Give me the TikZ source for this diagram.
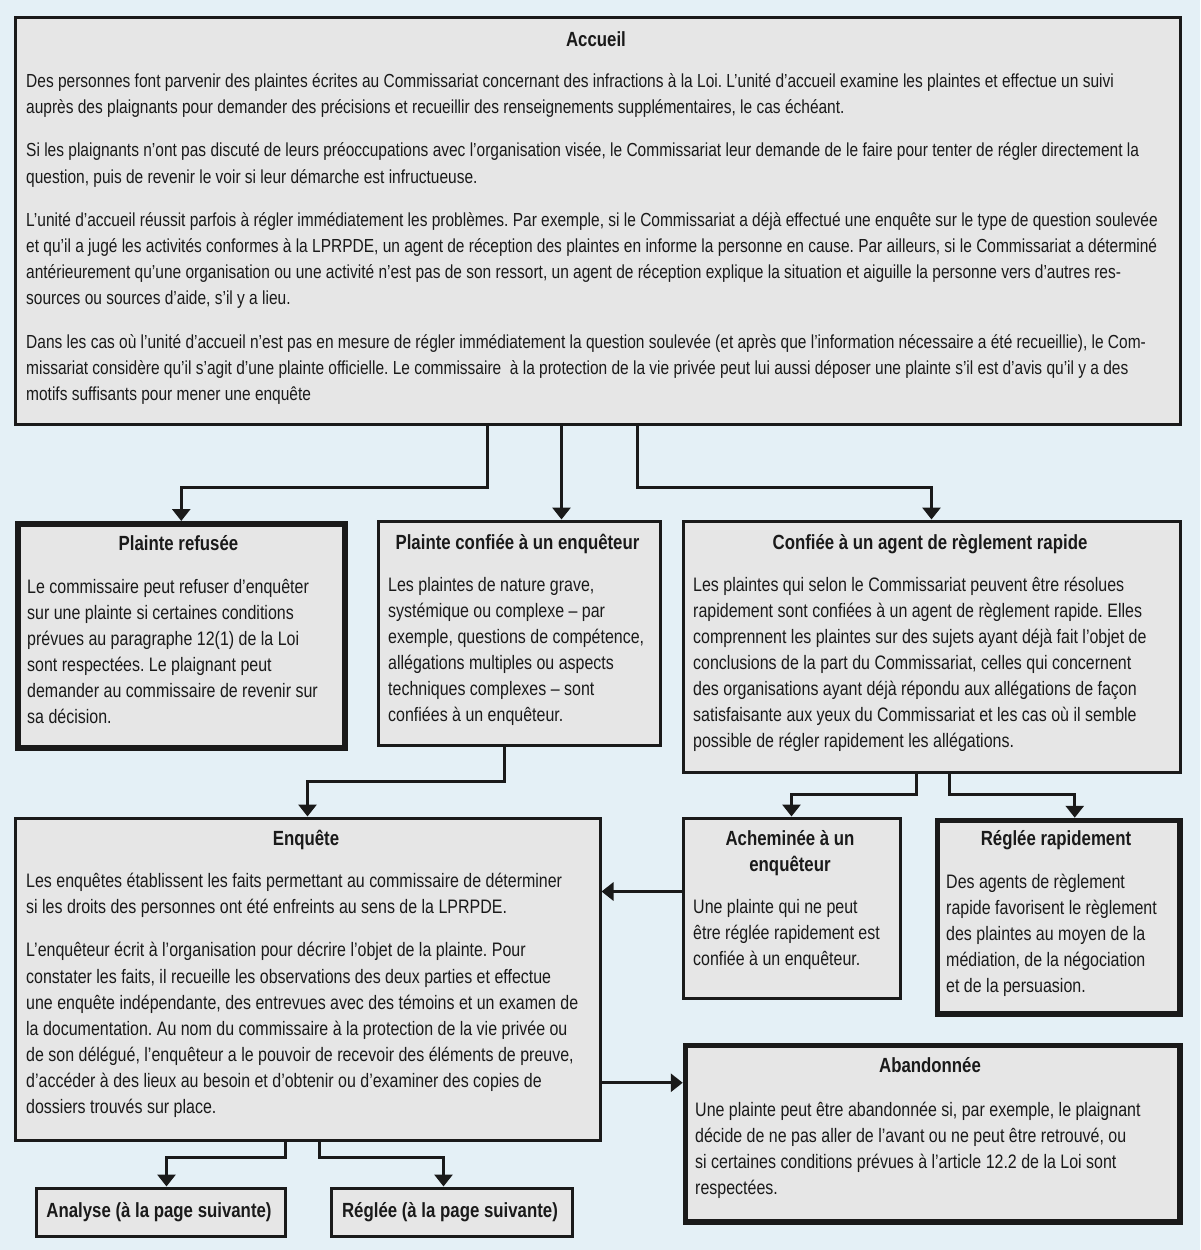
\documentclass[tikz,border=0pt]{standalone}
\usepackage{fontspec}
\setmainfont{Liberation Sans}[FakeStretch=0.82]
\usetikzlibrary{arrows.meta}
\definecolor{bg}{HTML}{E4F0F6}
\definecolor{boxfill}{HTML}{E6E6E6}
\definecolor{ink}{HTML}{1A1A1A}
\frenchspacing
\begin{document}
\frenchspacing
\begin{tikzpicture}[x=1pt,y=-1pt,
  box/.style={draw=ink, fill=boxfill, line width=3pt, inner sep=0pt, anchor=north west},
  thickbox/.style={box, line width=5.5pt},
  ttl/.style={font=\fontsize{20.5}{26}\selectfont\bfseries, text=ink, inner sep=0pt, anchor=base},
  ttltwo/.style={font=\fontsize{20.5}{26}\selectfont\bfseries, text=ink, inner sep=0pt, align=center, anchor=north},
  body/.style={font=\fontsize{19.5}{26.1}\selectfont\frenchspacing, text=ink, inner sep=0pt, align=left, anchor=north west},
  widebody/.style={body, font=\fontsize{18.9}{26.1}\selectfont\frenchspacing},
  conn/.style={draw=ink, line width=3pt, -{Triangle[width=18pt,length=12pt]}},
]
\fill[bg] (0,0) rectangle (1200,1250);
\useasboundingbox (0,0) rectangle (1200,1250);

% ---------- boxes ----------
\node[box, minimum width=1165pt, minimum height=407pt] (acc) at (13.5,15.5) {};
\node[thickbox, minimum width=327pt, minimum height=224pt] (pr) at (15,521) {};
\node[box, minimum width=282pt, minimum height=224pt] (pc) at (376.5,519.5) {};
\node[box, minimum width=497pt, minimum height=251pt] (ca) at (681.5,519.5) {};
\node[box, minimum width=585pt, minimum height=322pt] (enq) at (13.5,816.5) {};
\node[box, minimum width=217pt, minimum height=180pt] (ach) at (681.5,816.5) {};
\node[thickbox, minimum width=242.5pt, minimum height=193.5pt] (rr) at (934.75,817.75) {};
\node[thickbox, minimum width=494.5pt, minimum height=176.5pt] (ab) at (682.75,1042.75) {};
\node[box, minimum width=249pt, minimum height=48pt] (an) at (34.5,1186.5) {};
\node[box, minimum width=241pt, minimum height=48pt] (rg) at (329.5,1186.5) {};

% ---------- titles ----------
\node[ttl] (acc-t) at (596,46) {Accueil};
\node[ttl] (pr-t) at (178.5,550) {Plainte refusée};
\node[ttl] (pc-t) at (517.5,549) {Plainte confiée à un enquêteur};
\node[ttl] (ca-t) at (930,549) {Confiée à un agent de règlement rapide};
\node[ttl] (enq-t) at (306,845) {Enquête};
\node[ttltwo] (ach-t) at (790,829) {\rule{0pt}{16pt}Acheminée à un\\enquêteur};
\node[ttl] (rr-t) at (1056,845) {Réglée rapidement};
\node[ttl] (ab-t) at (930,1072) {Abandonnée};
\node[ttl] (an-t) at (159,1217) {Analyse (à la page suivante)};
\node[ttl] (rg-t) at (450,1217) {Réglée (à la page suivante)};

% ---------- bodies ----------
\node[widebody] (acc-b) at (26,71) {\rule{0pt}{16pt}Des personnes font parvenir des plaintes écrites au Commissariat concernant des infractions à la Loi. L’unité d’accueil examine les plaintes et effectue un suivi\\
auprès des plaignants pour demander des précisions et recueillir des renseignements supplémentaires, le cas échéant.\\[17.5pt]
Si les plaignants n’ont pas discuté de leurs préoccupations avec l’organisation visée, le Commissariat leur demande de le faire pour tenter de régler directement la\\
question, puis de revenir le voir si leur démarche est infructueuse.\\[17.5pt]
L’unité d’accueil réussit parfois à régler immédiatement les problèmes. Par exemple, si le Commissariat a déjà effectué une enquête sur le type de question soulevée\\
et qu’il a jugé les activités conformes à la LPRPDE, un agent de réception des plaintes en informe la personne en cause. Par ailleurs, si le Commissariat a déterminé\\
antérieurement qu’une organisation ou une activité n’est pas de son ressort, un agent de réception explique la situation et aiguille la personne vers d’autres res-\\
sources ou sources d’aide, s’il y a lieu.\\[17.5pt]
Dans les cas où l’unité d’accueil n’est pas en mesure de régler immédiatement la question soulevée (et après que l’information nécessaire a été recueillie), le Com-\\
missariat considère qu’il s’agit d’une plainte officielle. Le commissaire~ à la protection de la vie privée peut lui aussi déposer une plainte s’il est d’avis qu’il y a des\\
motifs suffisants pour mener une enquête};

\node[body] (pr-b) at (27,577) {\rule{0pt}{16pt}Le commissaire peut refuser d’enquêter\\
sur une plainte si certaines conditions\\
prévues au paragraphe 12(1) de la Loi\\
sont respectées. Le plaignant peut\\
demander au commissaire de revenir sur\\
sa décision.};

\node[body] (pc-b) at (388,575) {\rule{0pt}{16pt}Les plaintes de nature grave,\\
systémique ou complexe – par\\
exemple, questions de compétence,\\
allégations multiples ou aspects\\
techniques complexes – sont\\
confiées à un enquêteur.};

\node[body] (ca-b) at (693,575) {\rule{0pt}{16pt}Les plaintes qui selon le Commissariat peuvent être résolues\\
rapidement sont confiées à un agent de règlement rapide. Elles\\
comprennent les plaintes sur des sujets ayant déjà fait l’objet de\\
conclusions de la part du Commissariat, celles qui concernent\\
des organisations ayant déjà répondu aux allégations de façon\\
satisfaisante aux yeux du Commissariat et les cas où il semble\\
possible de régler rapidement les allégations.};

\node[body] (enq-b) at (26,871) {\rule{0pt}{16pt}Les enquêtes établissent les faits permettant au commissaire de déterminer\\
si les droits des personnes ont été enfreints au sens de la LPRPDE.\\[17.5pt]
L’enquêteur écrit à l’organisation pour décrire l’objet de la plainte. Pour\\
constater les faits, il recueille les observations des deux parties et effectue\\
une enquête indépendante, des entrevues avec des témoins et un examen de\\
la documentation. Au nom du commissaire à la protection de la vie privée ou\\
de son délégué, l’enquêteur a le pouvoir de recevoir des éléments de preuve,\\
d’accéder à des lieux au besoin et d’obtenir ou d’examiner des copies de\\
dossiers trouvés sur place.};

\node[body] (ach-b) at (693,897) {\rule{0pt}{16pt}Une plainte qui ne peut\\
être réglée rapidement est\\
confiée à un enquêteur.};

\node[body] (rr-b) at (946,872) {\rule{0pt}{16pt}Des agents de règlement\\
rapide favorisent le règlement\\
des plaintes au moyen de la\\
médiation, de la négociation\\
et de la persuasion.};

\node[body] (ab-b) at (695,1100) {\rule{0pt}{16pt}Une plainte peut être abandonnée si, par exemple, le plaignant\\
décide de ne pas aller de l’avant ou ne peut être retrouvé, ou\\
si certaines conditions prévues à l’article 12.2 de la Loi sont\\
respectées.};

% ---------- connectors ----------
\coordinate (accL) at ([xshift=-110pt]acc.south);
\coordinate (accM) at ([xshift=-36pt]acc.south);
\coordinate (accR) at ([xshift=40pt]acc.south);
\draw[conn] (accL) -- ++(0,62) -| (pr.north);
\draw[conn] (accM) -- (accM |- pc.north);
\draw[conn] (accR) -- ++(0,62) -| (ca.north);

\coordinate (pcout) at ([xshift=-14.5pt]pc.south);
\draw[conn] (pcout) -- ++(0,35) -| (enq.north);

\coordinate (caL) at ([xshift=-15pt]ca.south);
\coordinate (caR) at ([xshift=18pt]ca.south);
\coordinate (rrin) at ([xshift=16pt]rr.north);
\draw[conn] (caL) -- ++(0,21) -| (ach.north);
\draw[conn] (caR) -- ++(0,21) -| (rrin);

\coordinate (achout) at ([yshift=16.5pt]ach.west);
\draw[conn] (achout) -- (achout -| enq.east);

\coordinate (abin) at ([yshift=51pt]ab.west);
\draw[conn] (abin -| enq.east) -- (abin);

\coordinate (enqL) at ([xshift=-22pt]enq.south);
\coordinate (enqR) at ([xshift=12pt]enq.south);
\coordinate (anin) at ([xshift=6pt]an.north);
\coordinate (rgin) at ([xshift=-8pt]rg.north);
\draw[conn] (enqL) -- ++(0,16) -| (anin);
\draw[conn] (enqR) -- ++(0,16) -| (rgin);
\end{tikzpicture}
\end{document}
